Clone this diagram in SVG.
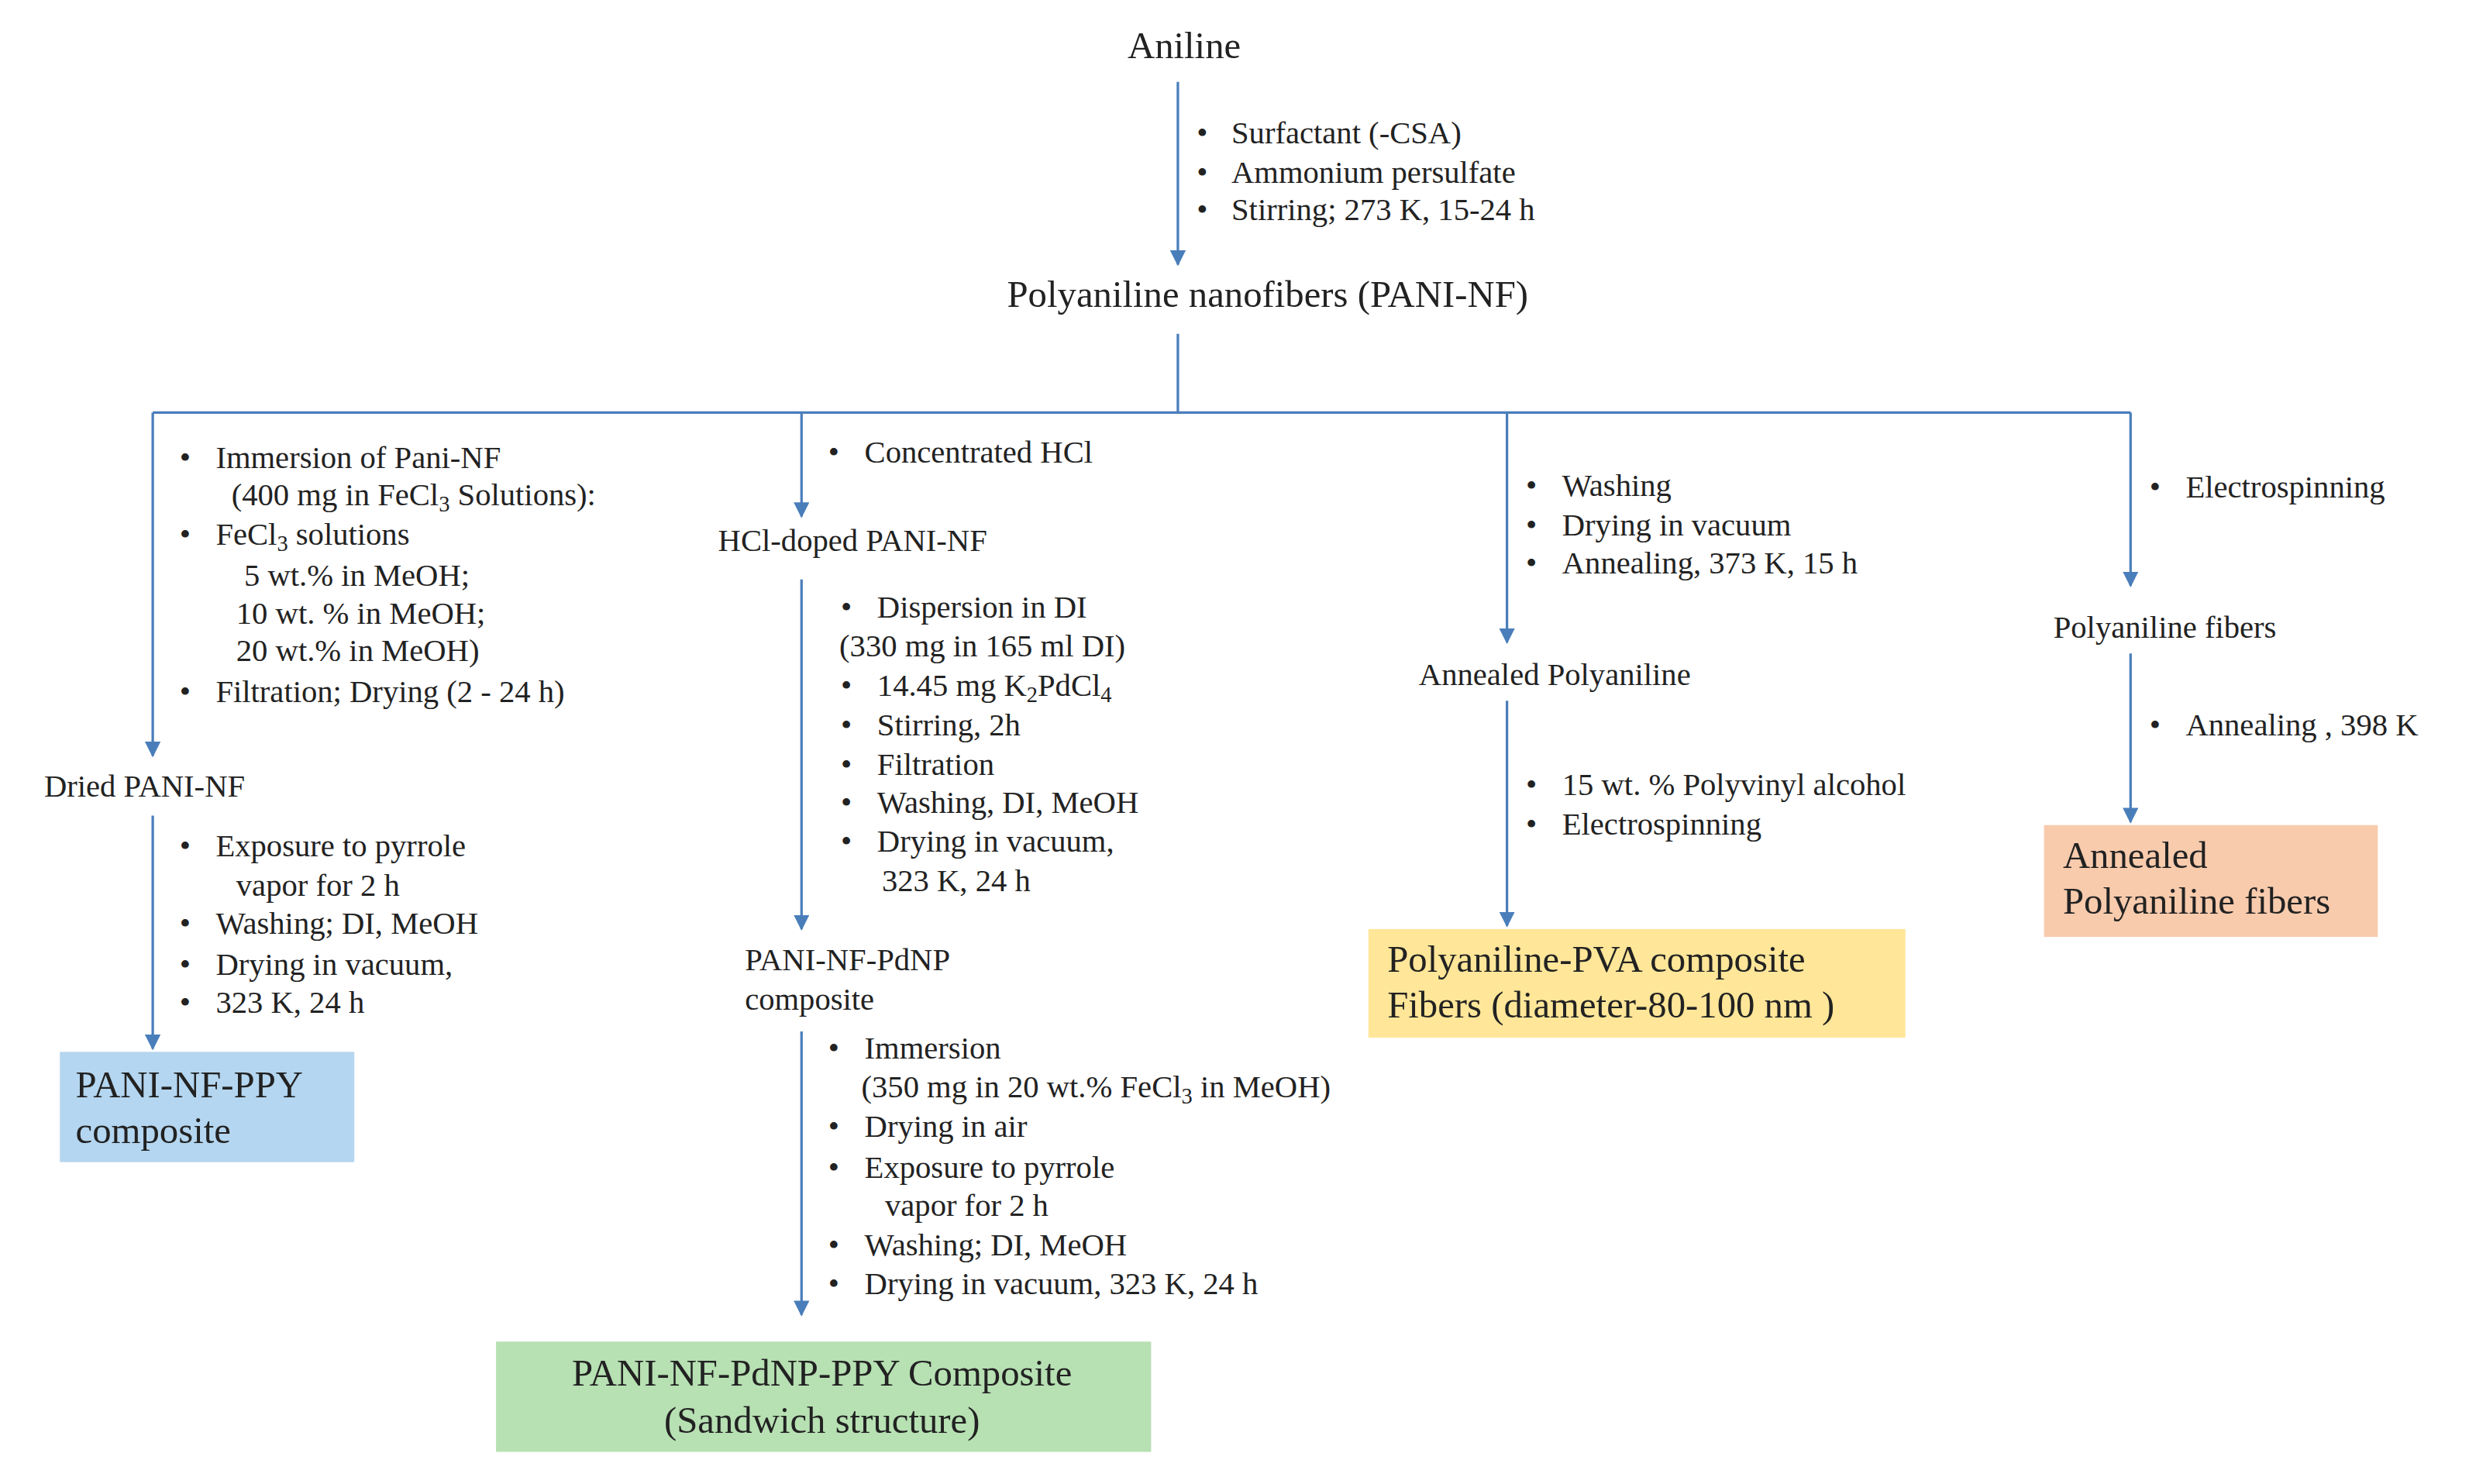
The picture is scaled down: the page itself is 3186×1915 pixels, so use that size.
<svg xmlns="http://www.w3.org/2000/svg" width="3186" height="1915" viewBox="0 0 3186 1915">
<style>
text{font-family:"Liberation Serif","Times New Roman",serif;fill:#222}
.b{font-size:20px}
.l{font-size:24px}
.c{stroke:#4a7ebb;stroke-width:1.6;fill:none}
.s{font-size:14px}
</style>
<defs><marker id="a" markerWidth="8" markerHeight="8" refX="4" refY="6" orient="auto" markerUnits="userSpaceOnUse" viewBox="0 0 8 8"><path d="M0,0 L8,0 L4,8z" fill="#4a7ebb" transform="rotate(-90 4 4)"/></marker>
<marker id="m" markerWidth="10" markerHeight="10" refX="9" refY="5" orient="auto" markerUnits="userSpaceOnUse"><path d="M0,0 L10,5 L0,10z" fill="#4a7ebb"/></marker></defs>
<rect width="3186" height="1915" fill="#fff"/>
<g transform="scale(2.032)">
<g id="connectors">
<path class="c" d="M748,52V168" marker-end="url(#m)"/>
<path class="c" d="M748,212V262M97,262H1353"/>
<path class="c" d="M97,262V480" marker-end="url(#m)"/>
<path class="c" d="M509,262V328" marker-end="url(#m)"/>
<path class="c" d="M957,262V408" marker-end="url(#m)"/>
<path class="c" d="M1353,262V372" marker-end="url(#m)"/>
<path class="c" d="M97,518V666" marker-end="url(#m)"/>
<path class="c" d="M509,368V590" marker-end="url(#m)"/>
<path class="c" d="M509,655V835" marker-end="url(#m)"/>
<path class="c" d="M957,445V588" marker-end="url(#m)"/>
<path class="c" d="M1353,415V522" marker-end="url(#m)"/>
</g>
<g id="aniline"><text class="l" x="752" y="37" text-anchor="middle">Aniline</text></g>
<g id="step1" class="b">
<text x="760" y="91">•</text><text x="782" y="91">Surfactant (-CSA)</text>
<text x="760" y="116">•</text><text x="782" y="116">Ammonium  persulfate</text>
<text x="760" y="140">•</text><text x="782" y="140">Stirring; 273 K, 15-24 h</text>
</g>
<g id="pani"><text class="l" x="805" y="195" text-anchor="middle">Polyaniline nanofibers (PANI-NF)</text></g>
<g id="left" class="b">
<text x="114" y="297">•</text><text x="137" y="297">Immersion  of Pani-NF</text>
<text x="147" y="321">(400 mg in FeCl<tspan class="s" dy="4">3</tspan><tspan dy="-4"> Solutions):</tspan></text>
<text x="114" y="346">•</text><text x="137" y="346">FeCl<tspan class="s" dy="4">3</tspan><tspan dy="-4"> solutions</tspan></text>
<text x="155" y="372">5 wt.% in MeOH;</text>
<text x="150" y="396">10 wt. % in MeOH;</text>
<text x="150" y="420">20 wt.% in MeOH)</text>
<text x="114" y="446">•</text><text x="137" y="446">Filtration; Drying (2 - 24 h)</text>
</g>
<g id="dried"><text class="b" x="28" y="506">Dried  PANI-NF</text></g>
<g id="left2" class="b">
<text x="114" y="544">•</text><text x="137" y="544">Exposure  to pyrrole</text>
<text x="150" y="569">vapor  for  2 h</text>
<text x="114" y="593">•</text><text x="137" y="593">Washing; DI, MeOH</text>
<text x="114" y="619">•</text><text x="137" y="619">Drying in vacuum,</text>
<text x="114" y="643">•</text><text x="137" y="643">323 K, 24 h</text>
</g>
<g id="ppy"><rect x="38" y="668" width="187" height="70" fill="#b4d6f0"/>
<text class="l" x="48" y="697">PANI-NF-PPY</text><text class="l" x="48" y="726">composite</text></g>
<g id="hcl" class="b"><text x="526" y="294">•</text><text x="549" y="294">Concentrated  HCl</text></g>
<g id="hcldoped"><text class="b" x="456" y="350">HCl-doped  PANI-NF</text></g>
<g id="mid1" class="b">
<text x="534" y="392">•</text><text x="557" y="392">Dispersion  in DI</text>
<text x="533" y="417">(330 mg in 165 ml DI)</text>
<text x="534" y="442">•</text><text x="557" y="442">14.45 mg K<tspan class="s" dy="4">2</tspan><tspan dy="-4">PdCl</tspan><tspan class="s" dy="4">4</tspan></text>
<text x="534" y="467">•</text><text x="557" y="467">Stirring, 2h</text>
<text x="534" y="492">•</text><text x="557" y="492">Filtration</text>
<text x="534" y="516">•</text><text x="557" y="516">Washing, DI, MeOH</text>
<text x="534" y="541">•</text><text x="557" y="541">Drying in vacuum,</text>
<text x="560" y="566">323 K, 24 h</text>
</g>
<g id="pdnp"><text class="b" x="473" y="616">PANI-NF-PdNP</text><text class="b" x="473" y="641">composite</text></g>
<g id="mid2" class="b">
<text x="526" y="672">•</text><text x="549" y="672">Immersion</text>
<text x="547" y="697">(350 mg in 20 wt.% FeCl<tspan class="s" dy="4">3</tspan><tspan dy="-4"> in MeOH)</tspan></text>
<text x="526" y="722">•</text><text x="549" y="722">Drying in air</text>
<text x="526" y="748">•</text><text x="549" y="748">Exposure  to pyrrole</text>
<text x="562" y="772">vapor  for  2 h</text>
<text x="526" y="797">•</text><text x="549" y="797">Washing; DI, MeOH</text>
<text x="526" y="822">•</text><text x="549" y="822">Drying in vacuum,  323 K, 24 h</text>
</g>
<g id="sandwich"><rect x="315" y="852" width="416" height="70" fill="#b7e0b3"/>
<text class="l" x="522" y="880" text-anchor="middle">PANI-NF-PdNP-PPY Composite</text>
<text class="l" x="522" y="910" text-anchor="middle">(Sandwich structure)</text></g>
<g id="c3a" class="b">
<text x="969" y="315">•</text><text x="992" y="315">Washing</text>
<text x="969" y="340">•</text><text x="992" y="340">Drying in vacuum</text>
<text x="969" y="364">•</text><text x="992" y="364">Annealing,  373 K, 15 h</text>
</g>
<g id="annealed"><text class="b" x="901" y="435">Annealed  Polyaniline</text></g>
<g id="c3b" class="b">
<text x="969" y="505">•</text><text x="992" y="505">15 wt. % Polyvinyl  alcohol</text>
<text x="969" y="530">•</text><text x="992" y="530">Electrospinning</text>
</g>
<g id="pva"><rect x="869" y="590" width="341" height="69" fill="#ffe699"/>
<text class="l" x="881" y="617">Polyaniline-PVA composite</text>
<text class="l" x="881" y="646">Fibers  (diameter-80-100 nm )</text></g>
<g id="c4a" class="b"><text x="1365" y="316">•</text><text x="1388" y="316">Electrospinning</text></g>
<g id="pfibers"><text class="b" x="1304" y="405">Polyaniline  fibers</text></g>
<g id="c4b" class="b"><text x="1365" y="467">•</text><text x="1388" y="467">Annealing  , 398 K</text></g>
<g id="apf"><rect x="1298" y="524" width="212" height="71" fill="#f8cbad"/>
<text class="l" x="1310" y="551">Annealed</text><text class="l" x="1310" y="580">Polyaniline fibers</text></g>
</g>
</svg>
